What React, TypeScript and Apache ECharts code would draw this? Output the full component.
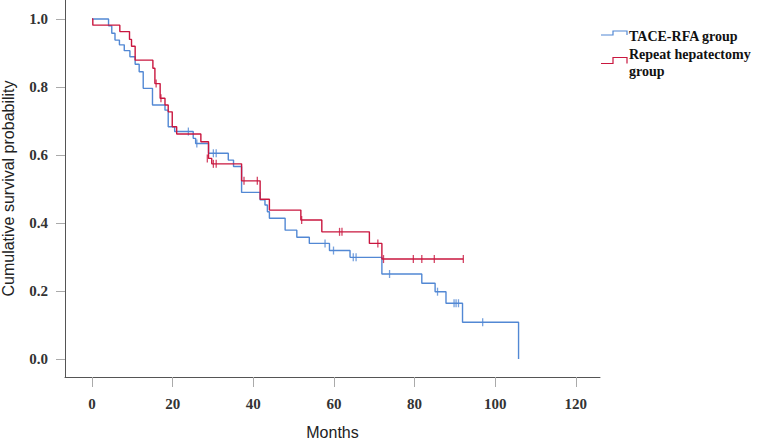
import React, { useEffect, useRef } from "react";
import * as echarts from "echarts";

// Kaplan–Meier step points: [months, cumulative survival]
const taceSteps: [number, number][] = [
  [0, 1.0], [4.1, 0.98], [4.9, 0.958], [5.7, 0.938], [6.8, 0.924], [8.0, 0.907],
  [9.4, 0.889], [10.7, 0.867], [11.7, 0.845], [12.7, 0.796], [15.0, 0.747],
  [18.1, 0.732], [18.9, 0.683], [20.5, 0.669], [25.1, 0.649], [25.7, 0.634],
  [28.9, 0.605], [33.8, 0.585], [35.1, 0.566], [37.1, 0.49], [41.7, 0.468],
  [42.9, 0.453], [43.5, 0.433], [44.0, 0.414], [47.9, 0.379], [50.8, 0.358],
  [53.9, 0.34], [58.9, 0.319], [64.0, 0.299], [71.9, 0.25], [81.8, 0.223],
  [85.1, 0.198], [87.8, 0.164], [91.9, 0.108], [105.8, 0.0],
];
const taceCensored: [number, number][] = [
  [23.9, 0.669], [26.0, 0.634], [30.1, 0.605], [30.8, 0.605], [57.8, 0.34],
  [59.9, 0.319], [64.8, 0.299], [65.5, 0.299], [73.8, 0.25], [85.7, 0.198],
  [89.8, 0.164], [90.3, 0.164], [90.9, 0.164], [96.9, 0.108],
];
const repeatSteps: [number, number][] = [
  [0, 1.0], [0.2, 0.982], [6.9, 0.963], [9.3, 0.94], [9.8, 0.92], [10.7, 0.879],
  [15.1, 0.855], [15.6, 0.81], [16.9, 0.767], [18.1, 0.747], [18.9, 0.727],
  [19.9, 0.683], [21.0, 0.662], [27.0, 0.639], [28.9, 0.59], [29.7, 0.574],
  [37.1, 0.524], [41.7, 0.47], [44.0, 0.438], [51.8, 0.409], [57.0, 0.374],
  [68.8, 0.34], [71.9, 0.294], [92.1, 0.294],
];
const repeatCensored: [number, number][] = [
  [15.9, 0.81], [17.1, 0.767], [28.6, 0.59], [30.1, 0.574], [30.8, 0.574],
  [37.7, 0.524], [41.0, 0.524], [52.0, 0.409], [61.4, 0.374], [62.0, 0.374],
  [70.9, 0.34], [72.3, 0.294], [79.7, 0.294], [81.8, 0.294], [84.9, 0.294],
  [92.1, 0.294],
];
const xTicks = [0, 20, 40, 60, 80, 100, 120];
const yTicks = [0, 0.2, 0.4, 0.6, 0.8, 1.0];
const seriesNames = ["TACE-RFA group", "Repeat hepatectomy group"];

const BLUE = "#5288d4";
const RED = "#c9173f";

export default function App() {
  const ref = useRef<HTMLDivElement>(null);
  useEffect(() => {
    if (!ref.current) return;
    const chart = echarts.init(ref.current, undefined, { renderer: "svg" });
    const tickFont = {
      fontFamily: '"Liberation Serif", serif',
      fontWeight: "bold" as const,
      fontSize: 15,
      color: "#333",
    };
    chart.setOption({
      animation: false,
      backgroundColor: "#fff",
      grid: { left: 65, right: 167, top: 0, bottom: 65, containLabel: false, outerBoundsMode: "none" },
      xAxis: {
        type: "value",
        min: -6.7,
        max: 126,
        name: "Months",
        nameLocation: "middle",
        nameGap: 47,
        nameTextStyle: { fontFamily: '"Liberation Sans", Arial, sans-serif', fontSize: 16, color: "#222" },
        splitLine: { show: false },
        axisLine: { show: true, onZero: false, lineStyle: { color: "#555", width: 1 } },
        axisTick: { show: true, length: 10, customValues: xTicks, lineStyle: { color: "#aaa" } },
        axisLabel: { customValues: xTicks, margin: 19, ...tickFont },
      },
      yAxis: {
        type: "value",
        min: -0.0529,
        max: 1.0559,
        name: "Cumulative survival probability",
        nameLocation: "middle",
        nameGap: 49,
        nameTextStyle: { fontFamily: '"Liberation Sans", Arial, sans-serif', fontSize: 16, color: "#222" },
        splitLine: { show: false },
        axisLine: { show: true, onZero: false, lineStyle: { color: "#555", width: 1 } },
        axisTick: { show: true, length: 9, customValues: yTicks, lineStyle: { color: "#aaa" } },
        axisLabel: {
          customValues: yTicks,
          margin: 17,
          formatter: (v: number) => v.toFixed(1),
          ...tickFont,
        },
      },
      series: [
        {
          name: seriesNames[0],
          type: "line",
          step: "end",
          data: taceSteps,
          showSymbol: false,
          lineStyle: { color: BLUE, width: 1.4 },
          z: 2,
        },
        {
          name: seriesNames[0] + " censored",
          type: "scatter",
          data: taceCensored,
          symbol: "rect",
          symbolSize: [1.3, 8],
          itemStyle: { color: BLUE },
          z: 3,
        },
        {
          name: seriesNames[1],
          type: "line",
          step: "end",
          data: repeatSteps,
          showSymbol: false,
          lineStyle: { color: RED, width: 1.4 },
          z: 4,
        },
        {
          name: seriesNames[1] + " censored",
          type: "scatter",
          data: repeatCensored,
          symbol: "rect",
          symbolSize: [1.3, 8],
          itemStyle: { color: RED },
          z: 5,
        },
      ],
      graphic: [
        {
          type: "polyline",
          shape: { points: [[601, 35], [613, 35], [613, 31], [627, 31], [627, 35]] },
          style: { stroke: BLUE, lineWidth: 1.2, fill: "none" },
        },
        {
          type: "polyline",
          shape: { points: [[601, 63.5], [613, 63.5], [613, 57.5], [627, 57.5], [627, 63.5]] },
          style: { stroke: RED, lineWidth: 1.2, fill: "none" },
        },
        {
          type: "text",
          x: 629,
          y: 36,
          style: {
            text: "TACE-RFA group",
            font: 'bold 14px "Liberation Serif", serif',
            fill: "#111",
            verticalAlign: "middle",
          },
        },
        {
          type: "text",
          x: 629,
          y: 54,
          style: {
            text: "Repeat hepatectomy",
            font: 'bold 14px "Liberation Serif", serif',
            fill: "#111",
            verticalAlign: "middle",
          },
        },
        {
          type: "text",
          x: 629,
          y: 71,
          style: {
            text: "group",
            font: 'bold 14px "Liberation Serif", serif',
            fill: "#111",
            verticalAlign: "middle",
          },
        },
      ],
    });
    return () => chart.dispose();
  }, []);
  return (
    <div
      ref={ref}
      style={{ position: "fixed", left: 0, top: 0, width: 767, height: 442, background: "#fff" }}
    />
  );
}
